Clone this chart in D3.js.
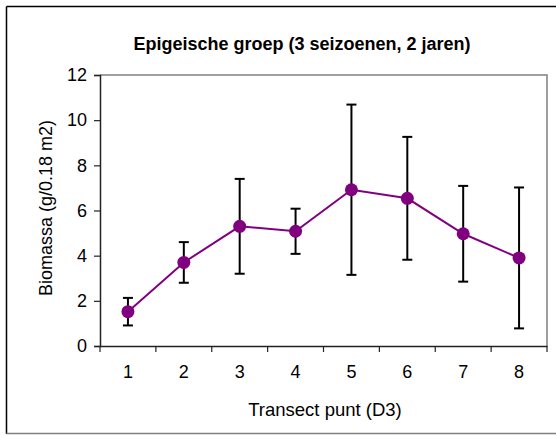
<!DOCTYPE html>
<html>
<head>
<meta charset="utf-8">
<script src="https://cdn.jsdelivr.net/npm/d3@7"></script>
<style>
  html, body { margin: 0; padding: 0; background: #fff; }
  svg { display: block; font-family: "Liberation Sans", Arial, sans-serif; }
</style>
</head>
<body>
<svg id="chart" width="556" height="435"></svg>
<script>
// Transect points and mean biomass with standard deviation
const punten = [1, 2, 3, 4, 5, 6, 7, 8];
const biomassa = [1.52, 3.70, 5.30, 5.08, 6.92, 6.54, 4.97, 3.90];
const afwijking = [0.61, 0.90, 2.10, 1.00, 3.77, 2.72, 2.12, 3.12];
const yTicks = [0, 2, 4, 6, 8, 10, 12];

const titel = "Epigeische groep (3 seizoenen, 2 jaren)";
const xTitel = "Transect punt (D3)";
const yTitel = "Biomassa (g/0.18 m2)";

const svg = d3.select("#chart");
const W = 556, H = 435;
const plot = { left: 100, top: 75, right: 547, bottom: 346 };
const FONT = "Liberation Sans, Arial, sans-serif";

// Outer chart frame
svg.append("line").attr("x1", 6.5).attr("y1", 6.5).attr("x2", W).attr("y2", 6.5)
  .attr("stroke", "#000").attr("stroke-width", 1.5);
svg.append("line").attr("x1", 6.5).attr("y1", 6.5).attr("x2", 6.5).attr("y2", 434)
  .attr("stroke", "#000").attr("stroke-width", 1.5);
svg.append("line").attr("x1", 6.5).attr("y1", 433.5).attr("x2", W).attr("y2", 433.5)
  .attr("stroke", "#808080").attr("stroke-width", 1.5);

const x = d3.scaleBand().domain(punten).range([plot.left, plot.right]);
const y = d3.scaleLinear().domain([0, 12]).range([plot.bottom, plot.top]);

// Plot area border (top and right)
svg.append("path")
  .attr("d", `M${plot.left},${plot.top}H${plot.right}V${plot.bottom}`)
  .attr("fill", "none").attr("stroke", "#808080").attr("stroke-width", 1.5);

// Y axis
const yAxis = svg.append("g").attr("transform", `translate(${plot.left},0)`)
  .call(d3.axisLeft(y).tickValues(yTicks).tickSize(6).tickPadding(7).tickFormat(d3.format("d")));
yAxis.select(".domain").attr("stroke", "#222").attr("stroke-width", 1.5);
yAxis.selectAll(".tick line").attr("stroke", "#222").attr("stroke-width", 1.2);
yAxis.selectAll("text").attr("font-size", 18).attr("fill", "#000").attr("font-family", FONT);

// X axis with ticks on band boundaries
const xAxis = svg.append("g").attr("transform", `translate(0,${plot.bottom})`)
  .call(d3.axisBottom(x).tickSize(0).tickPadding(19));
xAxis.select(".domain").attr("stroke", "#222").attr("stroke-width", 1.5);
xAxis.selectAll("text").attr("font-size", 18).attr("fill", "#000").attr("font-family", FONT);
const grenzen = punten.map(p => x(p)).concat([x(punten[punten.length - 1]) + x.bandwidth()]);
xAxis.selectAll(".grens").data(grenzen).enter().append("line")
  .attr("x1", d => d).attr("x2", d => d).attr("y1", 0).attr("y2", 6)
  .attr("stroke", "#222").attr("stroke-width", 1.2);

const cx = p => x(p) + x.bandwidth() / 2;

// Error bars
const fout = svg.append("g").attr("stroke", "#000").attr("stroke-width", 2);
punten.forEach((p, i) => {
  const lo = biomassa[i] - afwijking[i], hi = biomassa[i] + afwijking[i];
  fout.append("line").attr("x1", cx(p)).attr("x2", cx(p)).attr("y1", y(lo)).attr("y2", y(hi));
  fout.append("line").attr("x1", cx(p) - 5).attr("x2", cx(p) + 5).attr("y1", y(lo)).attr("y2", y(lo));
  fout.append("line").attr("x1", cx(p) - 5).attr("x2", cx(p) + 5).attr("y1", y(hi)).attr("y2", y(hi));
});

// Mean line and markers
const reeks = punten.map((p, i) => ({ p, v: biomassa[i] }));
svg.append("path").datum(reeks)
  .attr("d", d3.line().x(d => cx(d.p)).y(d => y(d.v)))
  .attr("fill", "none").attr("stroke", "#800080").attr("stroke-width", 2);
svg.append("g").selectAll("circle").data(reeks).enter().append("circle")
  .attr("cx", d => cx(d.p)).attr("cy", d => y(d.v)).attr("r", 6.5)
  .attr("fill", "#800080");

// Titles
svg.append("text").attr("x", 302).attr("y", 50).attr("text-anchor", "middle")
  .attr("font-size", 18).attr("font-weight", "bold").attr("font-family", FONT).text(titel);
svg.append("text").attr("x", 325).attr("y", 416).attr("text-anchor", "middle")
  .attr("font-size", 18.5).attr("font-family", FONT).text(xTitel);
svg.append("text").attr("transform", "translate(52,208) rotate(-90)")
  .attr("text-anchor", "middle").attr("font-size", 18).attr("font-family", FONT).text(yTitel);
</script>
</body>
</html>
